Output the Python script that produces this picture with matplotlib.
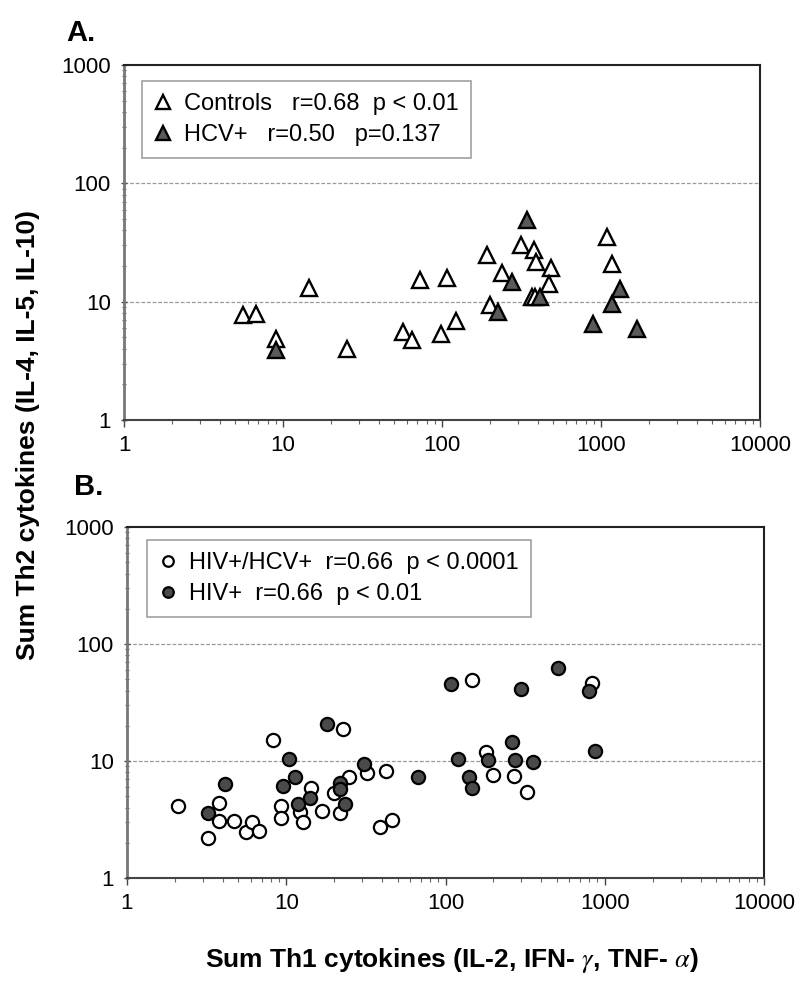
import numpy as np
import matplotlib
matplotlib.use('Agg')
import matplotlib.pyplot as plt
from matplotlib.ticker import LogLocator, FixedLocator, FixedFormatter, NullFormatter

plt.rcParams['font.family'] = ['Liberation Sans', 'DejaVu Sans']
plt.rcParams['mathtext.fontset'] = 'stix'

# panel A: controls (open triangles) and HCV+ (filled triangles)
ctrl_x = [5.6, 6.8, 9.0, 14.6, 25.4, 56.6, 64.5, 72.7, 98, 107, 123, 193, 237, 200,
          313, 381, 390, 485, 473, 367, 387, 1086, 1178]
ctrl_y = [7.7, 7.9, 4.8, 13.0, 4.0, 5.5, 4.7, 15.3, 5.3, 15.8, 6.8, 24.8, 17.4, 9.4,
          30.2, 27.4, 21.8, 19.1, 14.1, 11.0, 11.0, 35.0, 20.7]
hcv_x = [9.0, 226, 277, 341, 413, 895, 1178, 1317, 1692]
hcv_y = [3.9, 8.1, 14.8, 49.1, 11.0, 6.5, 9.6, 12.7, 5.9]

# panel B: HIV+/HCV+ (open circles) and HIV+ (filled circles)
coinf_x = [2.08, 3.21, 3.80, 3.80, 4.70, 5.56, 6.10, 6.77, 8.22, 9.27, 9.27, 12.2, 12.8,
           14.2, 16.8, 22.8, 19.9, 21.8, 24.9, 32.0, 42.3, 38.8, 46.1, 146, 828, 179,
           198, 269, 324]
coinf_y = [4.12, 2.18, 4.35, 3.09, 3.09, 2.49, 2.99, 2.54, 15.1, 4.15, 3.28, 3.69, 2.99,
           5.91, 3.74, 18.7, 5.30, 3.57, 7.26, 7.94, 8.26, 2.71, 3.13, 49.3, 46.7, 11.9,
           7.59, 7.49, 5.47]
hiv_x = [3.21, 4.12, 9.58, 10.4, 11.3, 11.9, 14.1, 17.9, 21.7, 21.7, 23.4, 30.8, 67.5,
         108, 119, 297, 507, 796, 868, 184, 260, 273, 356, 141, 146]
hiv_y = [3.61, 6.32, 6.15, 10.3, 7.26, 4.29, 4.86, 20.7, 6.53, 5.73, 4.29, 9.43, 7.26,
         45.5, 10.3, 41.2, 62.0, 39.9, 12.2, 10.2, 14.4, 10.1, 9.75, 7.34, 5.84]

x_ticks = [1, 10, 100, 1000, 10000]
y_ticks = [1, 10, 100, 1000]

FS = 16     # tick labels
LFS = 17    # legend text

def style_axes(ax):
    ax.set_xscale('log')
    ax.set_yscale('log')
    ax.set_xlim(1, 10000)
    ax.set_ylim(1, 1000)
    ax.xaxis.set_major_locator(FixedLocator(x_ticks))
    ax.xaxis.set_major_formatter(FixedFormatter([str(v) for v in x_ticks]))
    ax.yaxis.set_major_locator(FixedLocator(y_ticks))
    ax.yaxis.set_major_formatter(FixedFormatter([str(v) for v in y_ticks]))
    ax.xaxis.set_minor_locator(LogLocator(base=10, subs=np.arange(2, 10)))
    ax.yaxis.set_minor_locator(LogLocator(base=10, subs=np.arange(2, 10)))
    ax.xaxis.set_minor_formatter(NullFormatter())
    ax.yaxis.set_minor_formatter(NullFormatter())
    ax.tick_params(axis='both', which='major', labelsize=FS, length=5, width=1, color='#444', pad=6)
    ax.tick_params(axis='both', which='minor', length=3, width=0.8, color='#666')
    ax.tick_params(axis='y', which='both', direction='inout')
    ax.tick_params(axis='y', which='major', pad=7)
    for v in [10, 100]:
        ax.axhline(v, color='#999999', lw=0.9, ls=(0, (3, 1.5)), zorder=0)
    for side in ['top', 'right']:
        ax.spines[side].set_linewidth(1.5)
        ax.spines[side].set_color('#222')
    ax.spines['left'].set_linewidth(2)
    ax.spines['left'].set_color('#777')
    ax.spines['bottom'].set_linewidth(1.5)
    ax.spines['bottom'].set_color('#444')

def add_legend(ax, anchor, mscale):
    leg = ax.legend(loc='upper left', bbox_to_anchor=anchor, borderaxespad=0,
                    fontsize=LFS, frameon=True, fancybox=False, handlelength=0.8,
                    handletextpad=0.5, borderpad=0.5, labelspacing=0.4, markerscale=mscale)
    leg.get_frame().set_edgecolor('#888')
    leg.get_frame().set_linewidth(1.2)
    return leg

fig = plt.figure(figsize=(8, 9.88), dpi=100)
ax1 = fig.add_axes([124/800, 1-420/988, 636/800, 355/988])
ax2 = fig.add_axes([127/800, 1-878/988, 637/800, 351/988])

style_axes(ax1)
ax1.plot(ctrl_x, ctrl_y, ls='none', marker='^', ms=12, mfc='white', mec='black', mew=1.7,
         label='Controls   r=0.68  p < 0.01', zorder=3)
ax1.plot(hcv_x, hcv_y, ls='none', marker='^', ms=12, mfc='#5a5a5a', mec='black', mew=1.7,
         label='HCV+   r=0.50   p=0.137', zorder=4)
add_legend(ax1, (0.028, 0.955), 0.85)

style_axes(ax2)
ax2.plot(coinf_x, coinf_y, ls='none', marker='o', ms=9.5, mfc='white', mec='black', mew=1.6,
         label='HIV+/HCV+  r=0.66  p < 0.0001', zorder=3)
ax2.plot(hiv_x, hiv_y, ls='none', marker='o', ms=9.5, mfc='#4a4a4a', mec='black', mew=1.6,
         label='HIV+  r=0.66  p < 0.01', zorder=4)
add_legend(ax2, (0.031, 0.963), 0.8)

fig.text(66/800, 1-33/988, 'A.', fontsize=21, fontweight='bold', va='center', ha='left')
fig.text(74/800, 1-487/988, 'B.', fontsize=21, fontweight='bold', va='center', ha='left')

fig.text(452/800, 1-960/988, r'Sum Th1 cytokines (IL-2, IFN- $\gamma$, TNF- $\alpha$)',
         fontsize=19, fontweight='bold', ha='center', va='center')
fig.text(28/800, 1-435/988, 'Sum Th2 cytokines (IL-4, IL-5, IL-10)',
         fontsize=19, fontweight='bold', ha='center', va='center', rotation=90)

fig.savefig('out.png', dpi=100)
